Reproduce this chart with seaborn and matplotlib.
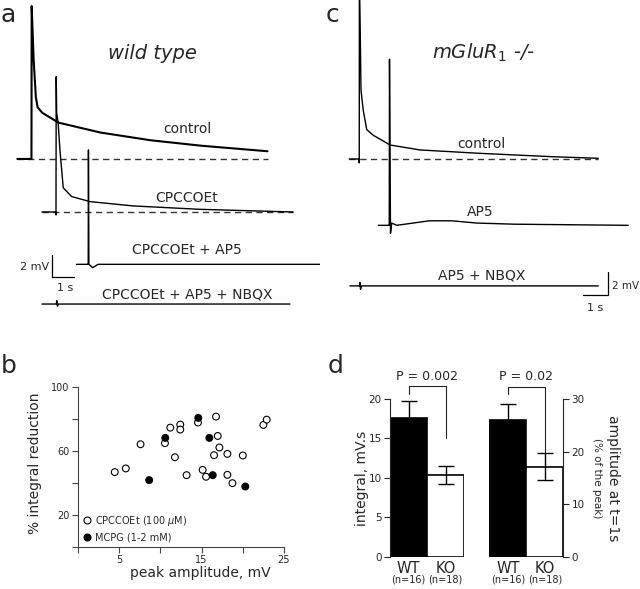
import numpy as np
import pandas as pd
import seaborn as sns
from matplotlib import pyplot as plt
from matplotlib.lines import Line2D

sns.set_style("ticks")
plt.rcParams["font.family"] = ["DejaVu Sans"]
plt.rcParams["mathtext.fontset"] = "dejavusans"

# ---- traces: time from stimulus (s), mV above baseline ----
# a: wild type
wt_ctrl_t = [-0.64, -0.02, 0.0, 0.01, 0.10, 0.20, 0.28, 0.49, 1.23, 3.14, 5.41, 7.73, 10.73]
wt_ctrl_v = [0.0, 0.0, 0.0, 13.9, 9.0, 5.6, 4.7, 4.2, 3.3, 2.4, 1.7, 1.2, 0.7]
wt_cpc_t = [-0.64, -0.02, 0.0, 0.01, 0.03, 0.10, 0.18, 0.33, 0.71, 1.55, 3.5, 6.55, 10.77]
wt_cpc_v = [0.0, 0.0, -0.27, 12.3, 9.0, 8.06, 5.6, 2.2, 1.4, 0.94, 0.55, 0.24, 0.0]
wt_ap5_t = [-0.53, -0.02, 0.0, 0.01, 0.03, 0.20, 0.45, 10.53]
wt_ap5_v = [0.0, 0.0, 0.0, 10.4, 0.0, -0.3, 0.0, 0.0]
wt_nbqx_t = [-0.67, -0.02, 0.0, 0.03, 0.08, 10.6]
wt_nbqx_v = [0.0, 0.0, 0.3, -0.2, 0.0, 0.0]

# c: mGluR1 -/-
ko_ctrl_t = [-0.4, -0.02, 0.0, 0.005, 0.04, 0.07, 0.16, 0.30, 0.56, 1.23, 2.43, 4.83, 7.75, 9.56]
ko_ctrl_v = [0.0, 0.0, -0.35, 16.0, 11.0, 6.1, 4.3, 2.6, 2.1, 1.24, 0.8, 0.5, 0.2, 0.06]
ko_ap5_t = [-0.44, -0.02, 0.0, 0.01, 0.05, 0.10, 0.30, 1.6, 2.5, 3.5, 5.0, 9.56]
ko_ap5_v = [0.0, 0.0, 0.0, 14.7, -0.7, 0.2, 0.0, 0.4, 0.4, 0.2, 0.1, 0.0]
ko_nbqx_t = [-0.4, -0.02, 0.0, 0.02, 0.06, 9.53]
ko_nbqx_v = [0.0, 0.0, 0.3, -0.3, 0.0, 0.0]

# ---- b: scatter ----
cpc_amp = [4.46, 5.80, 7.59, 10.55, 11.2, 12.41, 12.41, 11.76, 13.18, 14.56, 16.75,
           16.96, 17.16, 16.51, 18.13, 15.13, 15.54, 18.13, 18.74, 20.0, 22.5, 22.9]
cpc_red = [46.8, 49.1, 64.2, 64.9, 74.6, 76.5, 73.4, 56.1, 44.9, 77.8, 81.5,
           69.4, 62.2, 57.4, 58.2, 48.2, 43.9, 45.1, 39.9, 57.2, 76.3, 79.6]
mcpg_amp = [8.64, 10.59, 14.6, 15.94, 16.35, 20.3]
mcpg_red = [41.8, 68.2, 80.7, 68.2, 44.9, 37.8]
drugs = ["CPCCOEt (100 $\\mu$M)", "MCPG (1-2 mM)"]

# ---- d: bars ----
groups = ["WT", "KO"]
n_labels = ["(n=16)", "(n=18)"]
integral_mean = [17.6, 10.35]
integral_err = [2.1, 1.15]
amp_mean = [26.1, 17.1]
amp_err = [3.0, 2.55]

fig = plt.figure(figsize=(6.4, 5.89), dpi=100)
H = 589.0


def trace(ax, t, v, t0, base, lw=1.0):
    sns.lineplot(x=np.array(t) + t0, y=np.array(v) + base, ax=ax, color="black",
                 lw=lw, estimator=None, sort=False)


def dashed(ax, t, t0, base):
    ax.plot([t[0] + t0, t[-1] + t0], [base, base], color="#333333", lw=1.0,
            ls=(0, (4.5, 3.2)), zorder=1)


# ---------------- panel a ----------------
ax_a = fig.add_axes([0, 1 - 320 / H, 0.5, 320 / H])
ax_a.set_xlim(0, 320 / 22)
ax_a.set_ylim(-320 / 11, 0)
ax_a.axis("off")
dashed(ax_a, wt_ctrl_t, 1.43, -14.45)
dashed(ax_a, wt_cpc_t, 2.545, -19.27)
trace(ax_a, wt_ctrl_t, wt_ctrl_v, 1.43, -14.45, lw=1.5)
trace(ax_a, wt_cpc_t, wt_cpc_v, 2.545, -19.27)
trace(ax_a, wt_ap5_t, wt_ap5_v, 4.01, -24.03)
trace(ax_a, wt_nbqx_t, wt_nbqx_v, 2.58, -27.64)
ax_a.text(6.91, -4.82, "wild type", fontsize=14, style="italic", ha="center", va="center")
ax_a.text(8.5, -11.7, "control", fontsize=10, ha="center", va="center")
ax_a.text(8.5, -18.0, "CPCCOEt", fontsize=10, ha="center", va="center")
ax_a.text(8.5, -22.7, "CPCCOEt + AP5", fontsize=10, ha="center", va="center")
ax_a.text(8.5, -26.8, "CPCCOEt + AP5 + NBQX", fontsize=10, ha="center", va="center")
ax_a.plot([2.38, 2.38, 3.38], [-23.2, -25.2, -25.2], color="black", lw=0.9)
ax_a.text(2.23, -24.3, "2 mV", fontsize=8, ha="right", va="center")
ax_a.text(2.98, -26.2, "1 s", fontsize=8, ha="center", va="center")

# ---------------- panel c ----------------
ax_c = fig.add_axes([0.5, 1 - 320 / H, 0.5, 320 / H])
ax_c.set_xlim(0, 320 / 25)
ax_c.set_ylim(-320 / 11.3, 0)
ax_c.axis("off")
dashed(ax_c, ko_ctrl_t, 1.57, -14.07)
trace(ax_c, ko_ctrl_t, ko_ctrl_v, 1.57, -14.07)
trace(ax_c, ko_ap5_t, ko_ap5_v, 2.77, -19.94)
trace(ax_c, ko_nbqx_t, ko_nbqx_v, 1.6, -25.3)
ax_c.text(6.53, -4.72, "mGluR$_{\\mathit{1}}$ -/-", fontsize=14, style="italic",
          ha="center", va="center")
ax_c.text(6.47, -12.74, "control", fontsize=10, ha="center", va="center")
ax_c.text(6.4, -18.73, "AP5", fontsize=10, ha="center", va="center")
ax_c.text(6.47, -24.42, "AP5 + NBQX", fontsize=10, ha="center", va="center")
ax_c.plot([10.53, 11.53, 11.53], [-26.1, -26.1, -24.1], color="black", lw=0.9)
ax_c.text(11.66, -25.3, "2 mV", fontsize=7.5, ha="left", va="center")
ax_c.text(11.02, -27.26, "1 s", fontsize=8, ha="center", va="center")

# ---------------- panel b ----------------
ax_b = fig.add_axes([78 / 640, (H - 547) / H, 206 / 640, 160 / H])
df_b = pd.DataFrame({
    "amp": cpc_amp + mcpg_amp,
    "red": cpc_red + mcpg_red,
    "drug": [drugs[0]] * len(cpc_amp) + [drugs[1]] * len(mcpg_amp),
})
sns.scatterplot(data=df_b, x="amp", y="red", hue="drug",
                palette={drugs[0]: "white", drugs[1]: "black"},
                edgecolor="black", linewidth=0.8, s=24, legend=False, ax=ax_b, zorder=3)
ax_b.set_xlim(0, 25)
ax_b.set_ylim(0, 100)
ax_b.set_xticks([0, 5, 10, 15, 20, 25], ["", "5", "", "15", "", "25"])
ax_b.set_yticks([0, 20, 40, 60, 80, 100], ["", "20", "", "60", "", "100"])
ax_b.tick_params(direction="out", length=4, width=0.8, labelsize=7, pad=2, color="#444444")
for s in ["top", "right"]:
    ax_b.spines[s].set_visible(False)
for s in ["left", "bottom"]:
    ax_b.spines[s].set_color("#444444")
    ax_b.spines[s].set_linewidth(0.8)
ax_b.set_xlabel("peak amplitude, mV", fontsize=10, va="center")
ax_b.set_ylabel("% integral reduction", fontsize=10, va="center")
ax_b.xaxis.set_label_coords(0.592, -0.165)
ax_b.yaxis.set_label_coords(-0.209, 0.525)
handles = [Line2D([], [], ls="", marker="o", mfc=c, mec="black", mew=0.8, ms=5)
           for c in ["white", "black"]]
ax_b.legend(handles, drugs, loc="lower left", frameon=False, fontsize=7,
            handlelength=0.8, handletextpad=0.4, labelspacing=0.45,
            borderaxespad=0.2, borderpad=0.3)

# ---------------- panel d ----------------
def bar_panel(ax, means, errs, top, ticks):
    sns.barplot(x=groups, y=means, hue=groups, palette=["black", "white"],
                edgecolor="black", linewidth=1.2, width=1.0, errorbar=None,
                legend=False, ax=ax)
    ax.errorbar([0, 1], means, yerr=errs, fmt="none", ecolor="black",
                elinewidth=1.0, capsize=5.5, capthick=1.0, zorder=5)
    ax.set_xlim(-0.5, 1.5)
    ax.set_ylim(0, top)
    ax.set_yticks(ticks)
    ax.tick_params(axis="y", direction="out", length=4, width=0.8, labelsize=7.5, pad=2)
    ax.tick_params(axis="x", length=0, labelsize=10.5, pad=3)
    ax.set_xlabel("")
    for s in ["top", "bottom"]:
        ax.spines[s].set_visible(False)
    for i, n in enumerate(n_labels):
        ax.text(i, -0.145, n, fontsize=7, ha="center", va="center",
                transform=ax.get_xaxis_transform())


ax_d1 = fig.add_axes([390 / 640, (H - 556.7) / H, 74 / 640, 157.7 / H])
bar_panel(ax_d1, integral_mean, integral_err, 20, [0, 5, 10, 15, 20])
ax_d1.spines["right"].set_visible(False)
ax_d1.set_ylabel("integral, mV.s", fontsize=10, va="center")
ax_d1.yaxis.set_label_coords(-0.378, 0.499)
ax_d1.plot([0, 0, 1, 1], [20.6, 21.6, 21.6, 15.0], color="#222222", lw=0.8, clip_on=False)
ax_d1.text(0.5, 22.8, "P = 0.002", fontsize=9, ha="center", va="center")

ax_d2 = fig.add_axes([489.3 / 640, (H - 556.7) / H, 74 / 640, 157.7 / H])
bar_panel(ax_d2, amp_mean, amp_err, 30, [0, 10, 20, 30])
ax_d2.spines["left"].set_visible(False)
ax_d2.yaxis.tick_right()
ax_d2.set_ylabel("")
ax_d2.plot([0, 0, 1, 1], [30.9, 32.3, 32.3, 19.3], color="#222222", lw=0.8, clip_on=False)
ax_d2.text(0.5, 34.2, "P = 0.02", fontsize=9, ha="center", va="center")
ax_d2.text(1.676, 0.5, "amplitude at t=1s", fontsize=10, rotation=-90,
           ha="center", va="center", transform=ax_d2.transAxes)
ax_d2.text(1.451, 0.5, "(% of the peak)", fontsize=7.5, rotation=-90,
           ha="center", va="center", transform=ax_d2.transAxes)

# panel letters (left edge, baseline in pixels)
for letter, px, py in [("a", 1, 22), ("b", 1, 373), ("c", 326, 22), ("d", 328, 373)]:
    fig.text(px / 640, 1 - py / H, letter, fontsize=18, ha="left", va="baseline")

fig.savefig("out.png", dpi=100)
